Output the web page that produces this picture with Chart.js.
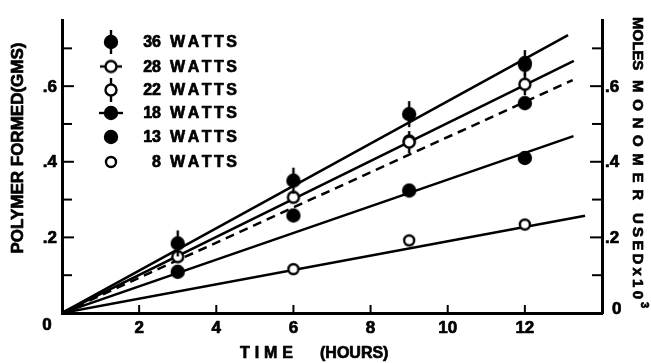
<!DOCTYPE html>
<html><head><meta charset="utf-8">
<script src="https://cdn.jsdelivr.net/npm/chart.js@4.4.1/dist/chart.umd.min.js"></script>
<style>html,body{margin:0;padding:0;background:#fff;}#wrap{width:651px;height:363px;position:relative;}</style>
</head><body><div id="wrap"><canvas id="c" width="651" height="363"></canvas></div>
<script>
// ---- data ----
const hours   = [3, 6, 9, 12];
const watts36 = [0.184, 0.350, 0.526, 0.661];
const watts28 = [0.149, 0.306, 0.455, 0.655];
const watts22 = [null, null, 0.452, 0.605];
const watts18 = [null, 0.258, null, 0.555];
const watts13 = [0.109, null, 0.324, 0.410];
const watts8  = [null, 0.116, 0.192, 0.234];
const fitEndX = [13.12, 13.27, 13.24, 13.26, 13.56];
const fitEndY = [0.735, 0.667, 0.616, 0.468, 0.257];
const fitDashed = [false, false, true, false, false];
const legendNums = ['36', '28', '22', '18', '13', '8'];
const xTicks = [2, 4, 6, 8, 10, 12];
const yMajor = [0.2, 0.4, 0.6];
const yMinor = [0.1, 0.3, 0.5, 0.7];
const yLabels = ['.2', '.4', '.6'];

// ---- marker shapes ----
function marker(filled, bar, r, barLen) {
  const s = 32, c = document.createElement('canvas'); c.width = s; c.height = s;
  const g = c.getContext('2d'); const m = s / 2;
  g.strokeStyle = '#000'; g.lineWidth = 2.4;
  if (bar === 'v') { g.beginPath(); g.moveTo(m, m - barLen); g.lineTo(m, m + barLen); g.stroke(); }
  if (bar === 'h') { g.beginPath(); g.moveTo(m - barLen, m); g.lineTo(m + barLen, m); g.stroke(); }
  g.beginPath(); g.arc(m, m, r, 0, Math.PI * 2);
  g.fillStyle = filled ? '#000' : '#fff'; g.fill(); g.lineWidth = 2.4; g.stroke();
  return c;
}
const legendMarkers = [
  marker(true, 'v', 6, 12), marker(false, 'h', 5.5, 11), marker(false, 'v', 5.5, 12),
  marker(true, 'h', 6, 12), marker(true, null, 6, 0), marker(false, null, 5, 0)
];
const plotMarkers = [
  marker(true, 'v', 6, 13), marker(false, null, 5.5, 0), marker(false, 'v', 5.5, 11),
  marker(true, null, 6, 0), marker(true, null, 6, 0), marker(false, null, 5, 0)
];
const series = [watts36, watts28, watts22, watts18, watts13, watts8];
const drawOrder = [0, 2, 1, 3, 4, 5];

const datasets = [];
fitEndX.forEach((ex, i) => {
  datasets.push({
    data: [{x: 0, y: 0}, {x: ex, y: fitEndY[i]}], showLine: true, pointRadius: 0,
    borderColor: '#000', borderWidth: 2.5, borderDash: fitDashed[i] ? [9, 6] : [],
    order: 20, yAxisID: 'y'
  });
});
series.forEach((arr, i) => {
  datasets.push({
    data: hours.map((h, k) => ({x: h, y: arr[k]})).filter(p => p.y !== null),
    showLine: false, pointStyle: plotMarkers[i], pointRadius: 6,
    order: drawOrder[i], yAxisID: 'y'
  });
});

function txt(g, s, x, y) { g.fillText(s, x, y); g.strokeText(s, x, y); }
function spaced(g, text, x0, x1, y) {
  const chars = [...text];
  const w = chars.reduce((a, ch) => a + g.measureText(ch).width, 0);
  const gap = chars.length > 1 ? Math.max(0, (x1 - x0 - w) / (chars.length - 1)) : 0;
  let x = x0;
  g.textAlign = 'left';
  chars.forEach(ch => { txt(g, ch, x, y); x += g.measureText(ch).width + gap; });
}
const F = "'Liberation Sans', Arial, sans-serif";

const deco = {
  id: 'deco',
  afterDatasetsDraw(chart) {
    const g = chart.ctx, xs = chart.scales.x, ys = chart.scales.y, a = chart.chartArea;
    g.save();
    g.strokeStyle = '#000'; g.fillStyle = '#000'; g.lineWidth = 2;
    // inward ticks
    xTicks.forEach(v => { const px = xs.getPixelForValue(v); g.beginPath(); g.moveTo(px, a.bottom); g.lineTo(px, a.bottom - 8); g.stroke(); });
    const tk = (v, len) => { const py = ys.getPixelForValue(v);
      g.beginPath(); g.moveTo(a.left, py); g.lineTo(a.left + len, py); g.stroke();
      g.beginPath(); g.moveTo(a.right, py); g.lineTo(a.right - len, py); g.stroke(); };
    yMajor.forEach(v => tk(v, 12)); yMinor.forEach(v => tk(v, 10));
    // text style
    g.lineWidth = 0.7; g.lineJoin = 'round';
    g.font = "bold 17px " + F; g.textBaseline = 'middle';
    g.textAlign = 'center';
    xTicks.forEach(v => txt(g, String(v), xs.getPixelForValue(v), 328));
    txt(g, '0', 47, 325);
    g.textAlign = 'right';
    yMajor.forEach((v, i) => txt(g, yLabels[i], 57, ys.getPixelForValue(v) + 1));
    g.textAlign = 'left';
    yMajor.forEach((v, i) => txt(g, yLabels[i], 605, ys.getPixelForValue(v) + 1));
    txt(g, '0', 612, 309);
    // legend
    const rows = [42, 66.5, 90, 113, 137, 162];
    rows.forEach((ry, i) => {
      const mk = legendMarkers[i];
      g.drawImage(mk, 111 - mk.width / 2, ry - mk.height / 2);
      g.font = "bold 16px " + F; g.textAlign = 'right';
      txt(g, legendNums[i], 161, ry + 1);
      spaced(g, 'WATTS', 170, 237, ry + 1);
    });
    // bottom title
    g.font = "bold 16px " + F;
    spaced(g, 'TIME', 240, 293, 354);
    spaced(g, '(HOURS)', 320, 381, 354);
    // left title
    g.save(); g.translate(18, 148); g.rotate(-Math.PI / 2);
    g.font = "bold 17px " + F; g.textAlign = 'center';
    txt(g, 'POLYMER FORMED(GMS)', 0, 0);
    g.restore();
    // right title
    g.save(); g.translate(637, 0); g.rotate(Math.PI / 2);
    g.font = "bold 15px " + F;
    spaced(g, 'MOLES', 17, 70, 0);
    spaced(g, 'MONOMER', 80, 200, 0);
    spaced(g, 'USEDx10', 213, 299, 0);
    g.font = "bold 11px " + F;
    txt(g, '3', 302, -7);
    g.restore();
    g.restore();
  }
};

new Chart(document.getElementById('c'), {
  type: 'scatter',
  data: { datasets },
  options: {
    responsive: false, animation: false, devicePixelRatio: 1,
    layout: { padding: { top: 20, left: 0, right: 0, bottom: 0 } },
    plugins: { legend: { display: false }, tooltip: { enabled: false } },
    scales: {
      x: { type: 'linear', min: 0, max: 14, position: 'bottom',
        grid: { display: false, drawTicks: false }, ticks: { display: false },
        border: { display: true, width: 3, color: '#000' },
        afterFit: s => { s.height = 50; } },
      y: { type: 'linear', min: 0, max: 0.775, position: 'left',
        grid: { display: false, drawTicks: false }, ticks: { display: false },
        border: { display: true, width: 3, color: '#000' },
        afterFit: s => { s.width = 62; } },
      y1: { type: 'linear', min: 0, max: 0.775, position: 'right', display: true,
        grid: { display: false, drawTicks: false }, ticks: { display: false },
        border: { display: true, width: 3, color: '#000' },
        afterFit: s => { s.width = 49; } }
    }
  },
  plugins: [deco]
});
</script></body></html>
